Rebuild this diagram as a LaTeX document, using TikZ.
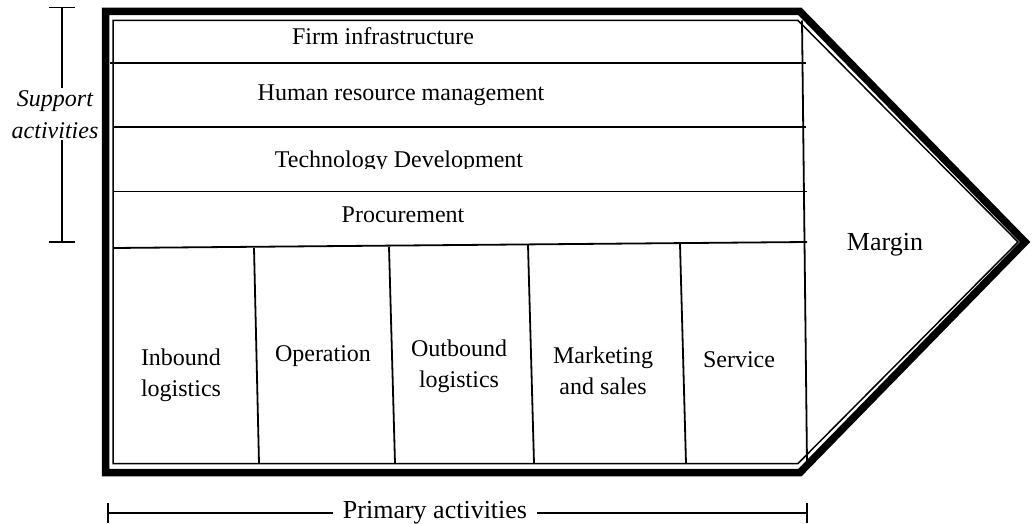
\documentclass[tikz,border=0pt]{standalone}
\usepackage{fontspec}
\setmainfont{Liberation Serif}

\begin{document}
\begin{tikzpicture}[x = 1pt, y = -1pt, line join = miter,
	rule/.style = {line width = 1.8 pt},
	label/.style = {inner sep = 0 pt, anchor = base, align = center, font = \fontsize{24}{31}\selectfont},
	biglabel/.style = {label, font = \fontsize{26}{31}\selectfont}]

	\useasboundingbox (0, 0) rectangle (1032, 524);

	% Outline w/inner line

	\draw [line width = 7.5 pt] (105.5, 11.5) -- (800, 11.5) -- (1025, 242) -- (800, 472.5) -- (105.5, 472.5) -- cycle;
	\draw [line width = 1.5 pt] (113, 20.5) -- (798, 20.5) -- (1018, 242) -- (798, 463.5) -- (113, 463.5) -- cycle;

	% Support activities

	\draw [rule] (110, 63) -- (806, 63);
	\draw [rule] (113, 127) -- (806, 127);
	\draw [rule] (113, 191.5) -- (807, 191.5);
	\draw [rule] (113, 248) -- (807, 242);
	\draw [rule] (802, 20.5) -- (807, 463.5);

	\node [label] (firm) at (383, 45) {Firm infrastructure};
	\node [label] (hrm) at (401, 100) {Human resource management};
	\begin{scope}
		\clip (113, 127) rectangle (802, 168.5);
		\node [label] (tech) at (399, 167.5) {Technology Development};
	\end{scope}
	\node [label] (proc) at (403, 222) {Procurement};

	% Primary activities

	\draw [rule] (254, 248) -- (259, 463.5);
	\draw [rule] (389, 247) -- (395, 463.5);
	\draw [rule] (528, 245) -- (534, 463.5);
	\draw [rule] (680, 244) -- (686, 463.5);

	\node [label] (inbound) at (181, 396) {Inbound\\logistics};
	\node [label] (operation) at (323, 361) {Operation};
	\node [label] (outbound) at (459, 387) {Outbound\\logistics};
	\node [label] (marketing) at (603, 394) {Marketing\\and sales};
	\node [label] (service) at (739, 367) {Service};

	% Margin

	\node [biglabel] (margin) at (885, 250) {Margin};

	% Brackets

	\draw [line width = 1.5 pt] (62, 7.5) -- (62, 242);
	\draw [line width = 1.5 pt] (49, 7.5) -- (75, 7.5);
	\draw [line width = 1.5 pt] (49, 242) -- (75, 242);
	\node [label, fill = white, inner sep = 2 pt, font = \fontsize{24}{32}\selectfont\itshape] (support) at (55, 138) {Support\\activities};

	\draw [line width = 1.5 pt] (108, 513) -- (807, 513);
	\draw [line width = 1.5 pt] (108, 503) -- (108, 523);
	\draw [line width = 1.5 pt] (807, 503) -- (807, 523);
	\node [biglabel, fill = white, inner xsep = 10 pt, inner ysep = 3 pt] (primary) at (435, 518) {Primary activities};

\end{tikzpicture}
\end{document}
